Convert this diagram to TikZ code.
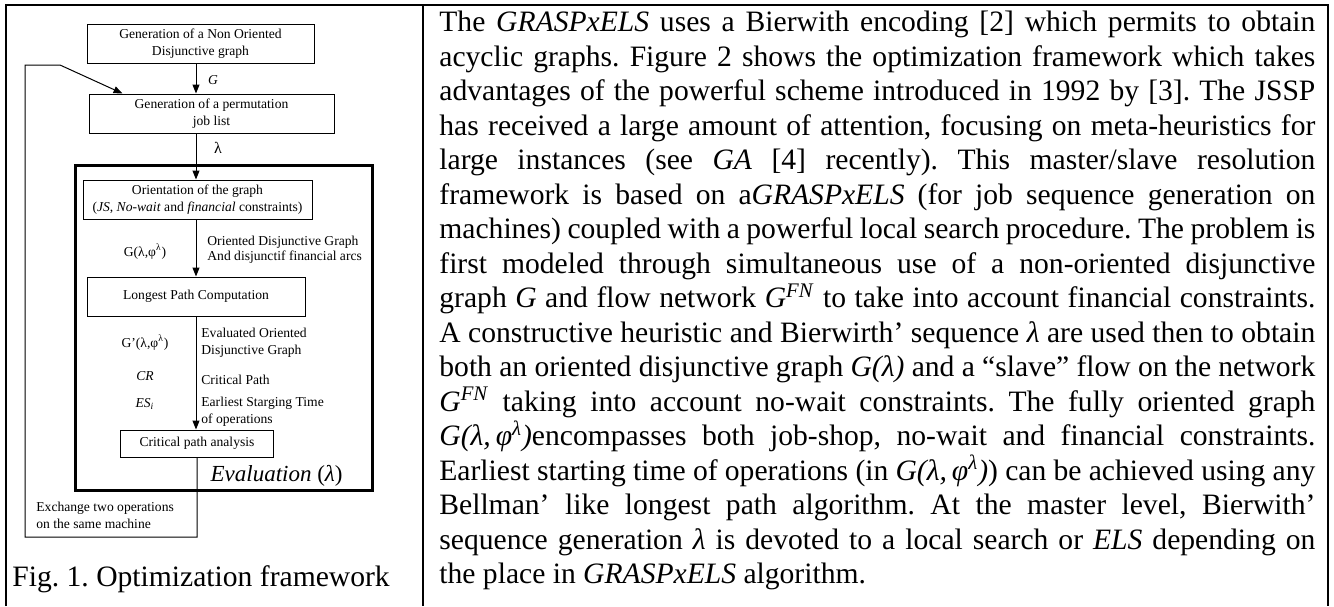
\documentclass[tikz,border=0pt]{standalone}
\usepackage{fontspec}
\setmainfont{Liberation Serif}
\usepackage{tikz}
\usetikzlibrary{arrows.meta, positioning, calc}
\frenchspacing

\begin{document}
\begin{tikzpicture}[
    x=0.5pt, y=-0.5pt,
    block/.style={rectangle, draw, line width=0.5pt, align=center, inner sep=0pt, minimum height=19.5pt, font=\fontsize{6.8}{8.5}\selectfont},
    lbl/.style={inner sep=0pt, font=\fontsize{6.8}{8.5}\selectfont},
    line/.style={draw, line width=0.5pt, -{Triangle[length=4.5pt, width=3.5pt]}},
    frame/.style={draw, line width=1pt}
]
\useasboundingbox (0,0) rectangle (1334,606);

% Table frame
\draw[frame] (6,606) -- (6,5) -- (1328,5) -- (1328,606);
\draw[frame] (423,5) -- (423,606);

% Evaluation block
\node[draw, line width=1.5pt, inner sep=0pt, minimum width=148.5pt, minimum height=162.5pt] (eval_box) at (223.5,327.5) {};

% Flowchart
\node[block, minimum width=113.5pt] (gen_graph) at (200.5,43.5) {Generation of a Non Oriented\\Disjunctive graph};
\node[block, minimum width=122.5pt] (gen_perm) at (211.5,113.5) {Generation of a permutation\\job list};
\node[block, minimum width=114.5pt] (orient) at (197.5,199.5) {Orientation of the graph\\(\textit{JS}, \textit{No-wait} and \textit{financial} constraints)};
\node[block, minimum width=109pt] (longest) at (196,296.5) {Longest Path Computation};
\node[block, minimum width=76.5pt, minimum height=13.5pt] (crit) at (197,443.5) {Critical path analysis};

% Labels
\node[lbl] (g_lbl) at (213,80) {\textit{G}};
\node[lbl, font=\fontsize{8}{9}\selectfont] (lambda_lbl) at (218,148) {λ};
\node[lbl] (g_orient) at (145,252) {G(λ,φ\textsuperscript{λ})};
\node[lbl, anchor=west, align=left, font=\fontsize{6.8}{7.6}\selectfont] (oriented_lbl) at (207,250) {Oriented Disjunctive Graph\\And disjunctif financial arcs};
\node[lbl] (g_eval) at (145,343) {G’(λ,φ\textsuperscript{λ})};
\node[lbl] (cr_lbl) at (145,376) {\textit{CR}};
\node[lbl] (es_lbl) at (145,404) {\textit{ES}\textsubscript{\textit{i}}};
\node[lbl, anchor=west, align=left] (evaluated_lbl) at (201,343) {Evaluated Oriented\\Disjunctive Graph};
\node[lbl, anchor=west] (cp_lbl) at (201,380) {Critical Path};
\node[lbl, anchor=west, align=left] (est_lbl) at (201,412) {Earliest Starging Time\\of operations};
\node[anchor=east, inner sep=0pt, font=\fontsize{11.5}{13}\selectfont] (eval_lbl) at (343,476) {\textit{Evaluation} (\textit{λ})};
\node[lbl, anchor=west, align=left] (swap_lbl) at (36,515) {Exchange two operations\\on the same machine};

% Connections
\coordinate (spine) at (196,0);
\path[line] (gen_graph.south -| spine) -- (gen_perm.north -| spine);
\path[line] (gen_perm.south -| spine) -- (orient.north -| spine);
\path[line] (orient.south -| spine) -- (longest.north -| spine);
\path[line] (longest.south -| spine) -- (crit.north -| spine);

% Loop back
\coordinate (loop_bl) at (25,537);
\coordinate (loop_tl) at (25,65);
\coordinate (loop_tr) at (60,65);
\path[line] (crit.south) |- (loop_bl) -- (loop_tl) -- (loop_tr) -- ([xshift=17pt]gen_perm.north west);

% Caption
\node[anchor=base west, inner sep=0pt, font=\fontsize{14.8}{17}\selectfont] (caption) at (12,586) {Fig. 1. Optimization framework};

% Text column
\node[anchor=north west, inner sep=0pt, text width=438pt, align=justify, font=\fontsize{14.8}{17.25}\selectfont] (body) at (439,11) {%
The \textit{GRASPxELS} uses a Bierwith encoding [2] which permits to obtain\linebreak
acyclic graphs. Figure 2 shows the optimization framework which takes\linebreak
advantages of the powerful scheme introduced in 1992 by [3]. The JSSP\linebreak
has received a large amount of attention, focusing on meta-heuristics for\linebreak
large instances (see \textit{GA} [4] recently). This master/slave resolution\linebreak
framework is based on a\textit{GRASPxELS} (for job sequence generation on\linebreak
machines) coupled with a powerful local search procedure. The problem is\linebreak
first modeled through simultaneous use of a non-oriented disjunctive\linebreak
graph \textit{G} and flow network \textit{G}\textsuperscript{\textit{FN}} to take into account financial constraints.\linebreak
A constructive heuristic and Bierwirth’ sequence \textit{λ} are used then to obtain\linebreak
both an oriented disjunctive graph \textit{G(λ)} and a “slave” flow on the network\linebreak
\textit{G}\textsuperscript{\textit{FN}} taking into account no-wait constraints. The fully oriented graph\linebreak
\textit{G(λ,\,φ\textsuperscript{λ})}encompasses both job-shop, no-wait and financial constraints.\linebreak
Earliest starting time of operations (in \textit{G(λ,\,φ\textsuperscript{λ})}) can be achieved using any\linebreak
Bellman’ like longest path algorithm. At the master level, Bierwith’\linebreak
sequence generation \textit{λ} is devoted to a local search or \textit{ELS} depending on\linebreak
the place in \textit{GRASPxELS} algorithm.};

\end{tikzpicture}
\end{document}
